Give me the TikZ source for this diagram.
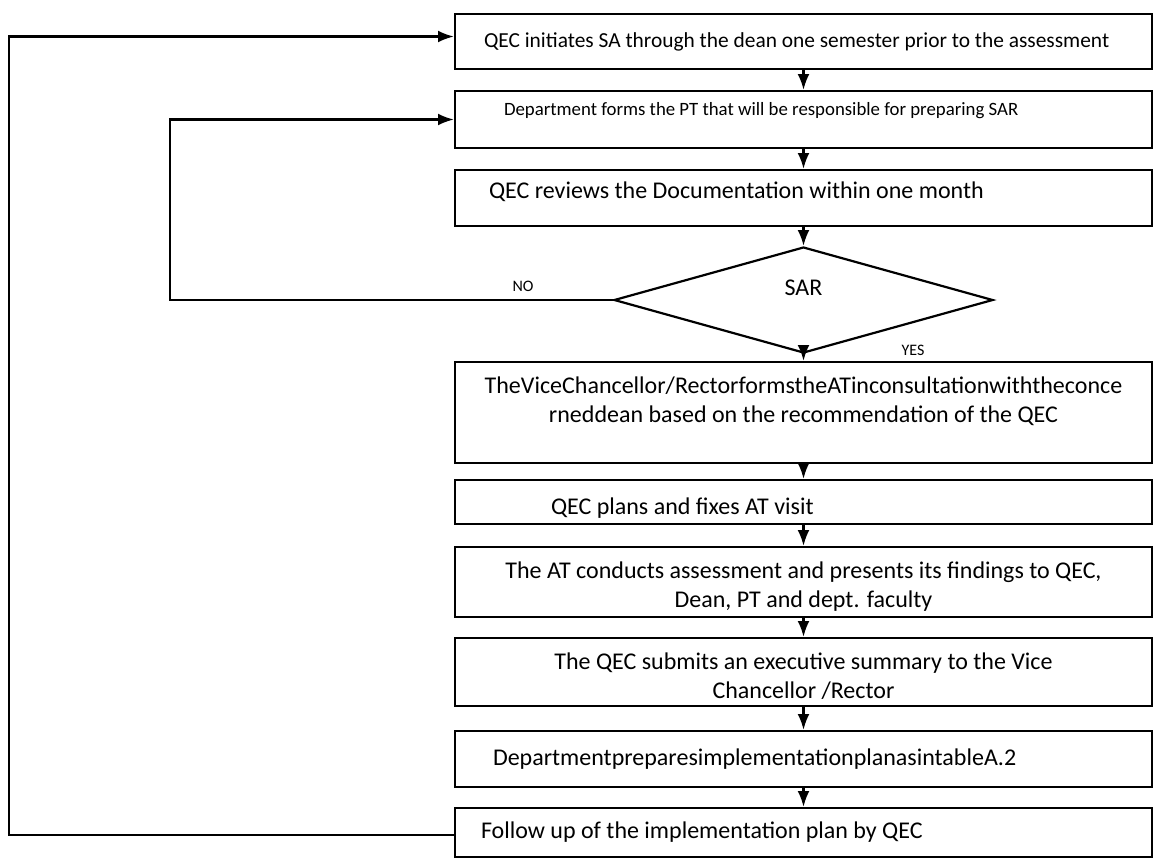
\documentclass[tikz,border=0pt]{standalone}
\usepackage{fontspec}
\setmainfont{Carlito}
\usetikzlibrary{shapes.geometric, arrows.meta}

\begin{document}
\begin{tikzpicture}[x=0.5pt, y=-0.5pt, >=Latex, line width=1.1pt,
    every node/.style={font=\fontsize{12}{14.5}\selectfont},
    stage/.style={draw, minimum width=348.5pt, inner ysep=0pt},
    lstage/.style={stage, align=flush left}]

    \useasboundingbox (0,0) rectangle (1156,859);

    % Steps of the assessment, top to bottom
    \node[lstage, inner xsep=14.5pt, text width=319.5pt, minimum height=27.5pt,
        font=\fontsize{10.7}{12}\selectfont] (initiate) at (803.5,41.5)
        {QEC initiates SA through the dean one semester prior to the assessment};
    \node[lstage, inner xsep=24.5pt, text width=299.5pt, minimum height=28.5pt,
        text depth=11pt, font=\fontsize{9.4}{11}\selectfont] (dept) at (803.5,119.5)
        {Department forms the PT that will be responsible for preparing SAR};
    \node[lstage, inner xsep=17pt, text width=314.5pt, minimum height=28pt,
        text depth=8pt] (review) at (803.5,198)
        {QEC reviews the Documentation within one month};

    \node[diamond, draw, inner sep=0pt, minimum width=189.5pt, minimum height=53pt,
        text depth=12pt] (sar) at (803.5,300) {SAR};

    \node[stage, align=center, minimum height=50.5pt, text depth=12.5pt] (vc) at (803.5,412.5)
        {TheViceChancellor/RectorformstheATinconsultationwiththeconce\\rneddean based on the recommendation of the QEC};
    \node[lstage, inner xsep=48pt, text width=252.5pt, minimum height=22pt,
        text height=14pt] (visit) at (803.5,502)
        {QEC plans and fixes AT visit};
    \node[stage, align=center, minimum height=35pt, text height=27pt] (assess) at (803.5,582)
        {The AT conducts assessment and presents its findings to QEC,\\Dean, PT and dept. faculty};
    \node[stage, align=center, minimum height=34pt, text height=27pt] (summary) at (803.5,672)
        {The QEC submits an executive summary to the Vice\\Chancellor /Rector};
    \node[lstage, inner xsep=19pt, text width=310.5pt, minimum height=28pt] (plan) at (803.5,759)
        {DepartmentpreparesimplementationplanasintableA.2};
    \node[lstage, inner xsep=13pt, text width=322.5pt, minimum height=24.5pt] (follow) at (803.5,832.5)
        {Follow up of the implementation plan by QEC};

    % Decision labels
    \node[font=\fontsize{8}{10}\selectfont] (no) at (523,286) {NO};
    \node[font=\fontsize{8}{10}\selectfont] (yes) at (913,350) {YES};

    % Main flow
    \foreach \a/\b in {initiate/dept, dept/review, review/sar, sar/vc, vc/visit,
        visit/assess, assess/summary, summary/plan, plan/follow} {
        \draw[->] (\a.south) -- (\b.north);
    }

    % Returns
    \coordinate (nobend) at (170,300);
    \draw[->] (sar.west) -- (nobend) |- (dept.west);
    \coordinate (loopbend) at (9,835);
    \draw[->] (follow.west |- loopbend) -- (loopbend) |- ([yshift=2.5pt]initiate.west);

\end{tikzpicture}
\end{document}
